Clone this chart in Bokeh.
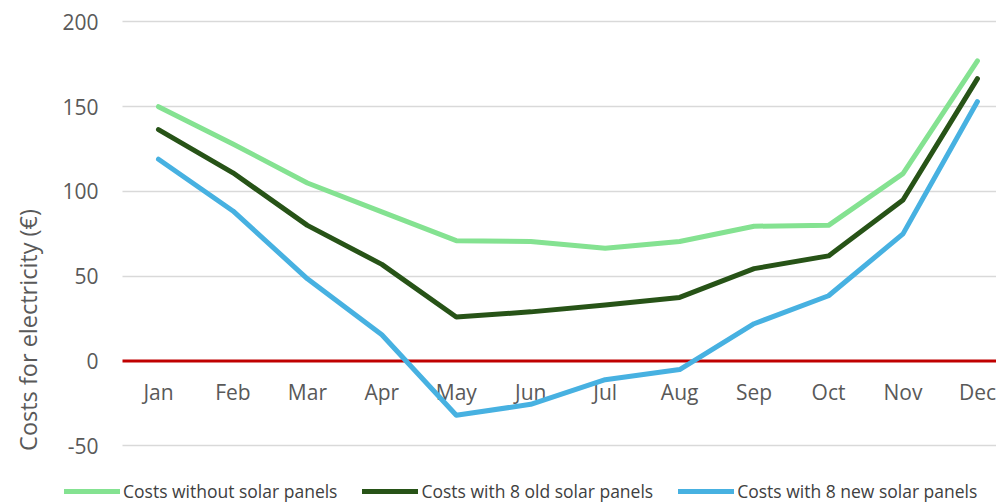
import math
from bokeh.plotting import figure
from bokeh.models import Range1d, Label, Legend, LegendItem, FixedTicker
from bokeh.core.properties import value
from bokeh.embed import file_html
from bokeh.resources import INLINE

# Monthly electricity costs (€)
months = ["Jan", "Feb", "Mar", "Apr", "May", "Jun",
          "Jul", "Aug", "Sep", "Oct", "Nov", "Dec"]
costs_without = [150, 128, 105, 88, 71, 70.5, 66.5, 70.5, 79.5, 80, 110.5, 177]
costs_old = [136.5, 111, 80, 57, 26, 29, 33, 37.5, 54.5, 62, 95, 166.5]
costs_new = [119, 88.5, 48.5, 15.5, -32, -25.5, -11, -5, 22, 38.5, 75, 153]
y_ticks = [-50, 0, 50, 100, 150, 200]
y_tick_labels = ["-50", "0", "50", "100", "150", "200"]

FONT = "Open Sans"
TEXT_GRAY = "#595959"
PLOT_LEFT = -0.4835   # left edge of the plotting area, in month-index units
PLOT_RIGHT = 11.256

xs = list(range(len(months)))

p = figure(width=996, height=503, output_backend="svg", toolbar_location=None,
           x_range=Range1d(-2.1222, PLOT_RIGHT), y_range=Range1d(-84.0, 212.6),
           min_border=0)
p.outline_line_color = None
p.background_fill_color = "white"
p.border_fill_color = "white"

p.xaxis.visible = False
p.yaxis.visible = False
p.xgrid.visible = False

p.ygrid.ticker = FixedTicker(ticks=[t for t in y_ticks if t != 0])
p.ygrid.cross_bounds = (PLOT_LEFT, PLOT_RIGHT)
p.ygrid.grid_line_color = "#D9D9D9"
p.ygrid.grid_line_width = 1.5

# value labels on the left
p.text(x=[PLOT_LEFT] * len(y_ticks), y=y_ticks, text=y_tick_labels,
       text_font=value(FONT), text_font_size="21px", text_color=TEXT_GRAY,
       text_align="right", text_baseline="middle", x_offset=-24)

# zero line
p.segment(x0=[PLOT_LEFT], y0=[0], x1=[PLOT_RIGHT], y1=[0],
          line_color="#C00000", line_width=3)

# month labels hanging just under the zero line
p.text(x=xs, y=[0] * len(xs), text=months, text_font=value(FONT),
       text_font_size="21px", text_color=TEXT_GRAY, text_align="center",
       text_baseline="middle", y_offset=31)

r1 = p.line(xs, costs_without, line_color="#84E291", line_width=5,
            line_cap="round", line_join="round")
r2 = p.line(xs, costs_old, line_color="#275317", line_width=5,
            line_cap="round", line_join="round")
r3 = p.line(xs, costs_new, line_color="#47B1E1", line_width=5,
            line_cap="round", line_join="round")

p.add_layout(Label(x=PLOT_LEFT, y=18.3, x_offset=-95, angle=math.pi / 2,
                   text="Costs for electricity (€)", text_font=FONT,
                   text_font_size="23.5px", text_color=TEXT_GRAY,
                   text_align="center", text_baseline="middle"))

legend = Legend(items=[
    LegendItem(label="Costs without solar panels", renderers=[r1]),
    LegendItem(label="Costs with 8 old solar panels", renderers=[r2]),
    LegendItem(label="Costs with 8 new solar panels", renderers=[r3]),
], orientation="horizontal", location=(64, 0), padding=0, margin=0,
    spacing=25, label_standoff=3, glyph_width=56, glyph_height=20,
    border_line_color=None, background_fill_alpha=0,
    label_text_font=FONT, label_text_font_size="17.5px",
    label_text_color="#404040")
p.add_layout(legend, "center")

open("out.html", "w").write(file_html(p, INLINE))
